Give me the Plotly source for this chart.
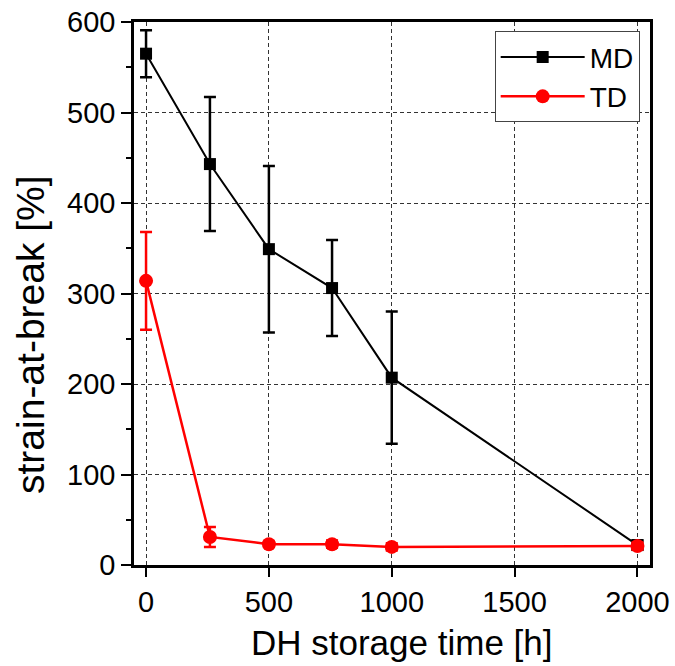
import plotly.graph_objects as go

time_md = [0, 260, 500, 757, 1000, 2000]
md_values = [565, 443, 349, 306, 207, 22]
md_errors = [26, 74, 92, 53, 73, 5]

time_td = [0, 260, 500, 757, 1000, 2000]
td_values = [314, 31, 23, 23, 20, 21]
td_errors = [54, 11, 3, 4, 4, 4]

x_ticks = [0, 500, 1000, 1500, 2000]
y_ticks = [0, 100, 200, 300, 400, 500, 600]

x_title = "DH storage time [h]"
y_title = "strain-at-break [%]"

fig = go.Figure()
fig.add_trace(go.Scatter(
    x=time_md, y=md_values, name="MD", mode="lines+markers",
    line=dict(color="black", width=2),
    marker=dict(symbol="square", size=12, color="black"),
    error_y=dict(type="data", array=md_errors, color="black", thickness=2.5, width=6),
))
fig.add_trace(go.Scatter(
    x=time_td, y=td_values, name="TD", mode="lines+markers",
    line=dict(color="#ff0000", width=2.5),
    marker=dict(symbol="circle", size=14, color="#ff0000"),
    error_y=dict(type="data", array=td_errors, color="#ff0000", thickness=2.5, width=6),
))

font = "Liberation Sans, Arial, sans-serif"
fig.update_layout(
    width=675, height=666,
    margin=dict(l=134, r=25, t=22, b=101),
    plot_bgcolor="white", paper_bgcolor="white",
    font=dict(family=font, color="black"),
    showlegend=True,
    legend=dict(
        x=0.98, y=0.983, xanchor="right", yanchor="top",
        bordercolor="#444", borderwidth=1, bgcolor="white",
        font=dict(size=28, family=font), itemwidth=84,
        tracegroupgap=0,
    ),
    xaxis=dict(
        range=[-49, 2051], tickvals=x_ticks, automargin=False,
        ticklabeloverflow="allow",
        showline=True, linecolor="black", linewidth=2.5, mirror=True,
        ticks="outside", ticklen=9, tickwidth=2, tickcolor="black",
        showgrid=True, gridcolor="#333", griddash="4px,3px", gridwidth=1,
        zeroline=False,
        tickfont=dict(size=29, family=font),
    ),
    yaxis=dict(
        range=[0, 600], tickvals=y_ticks, automargin=False,
        ticklabeloverflow="allow",
        showline=True, linecolor="black", linewidth=2.5, mirror=True,
        ticks="outside", ticklen=10, tickwidth=2, tickcolor="black",
        minor=dict(dtick=50, ticks="outside", ticklen=5, tickwidth=1.5, tickcolor="black", showgrid=False),
        showgrid=True, gridcolor="#333", griddash="4px,3px", gridwidth=1,
        zeroline=False,
        tickfont=dict(size=29, family=font),
    ),
    annotations=[
        dict(text=x_title, xref="paper", yref="paper", x=0.519, y=-0.1436,
             xanchor="center", yanchor="middle", showarrow=False,
             font=dict(size=35, family=font, color="black")),
        dict(text=y_title, xref="paper", yref="paper", x=-0.1996, y=0.4236,
             xanchor="center", yanchor="middle", showarrow=False, textangle=-90,
             font=dict(size=39, family=font, color="black")),
    ],
)

fig.write_html("out.html", config={"displayModeBar": False},
               post_script="document.body.style.margin='0';")
